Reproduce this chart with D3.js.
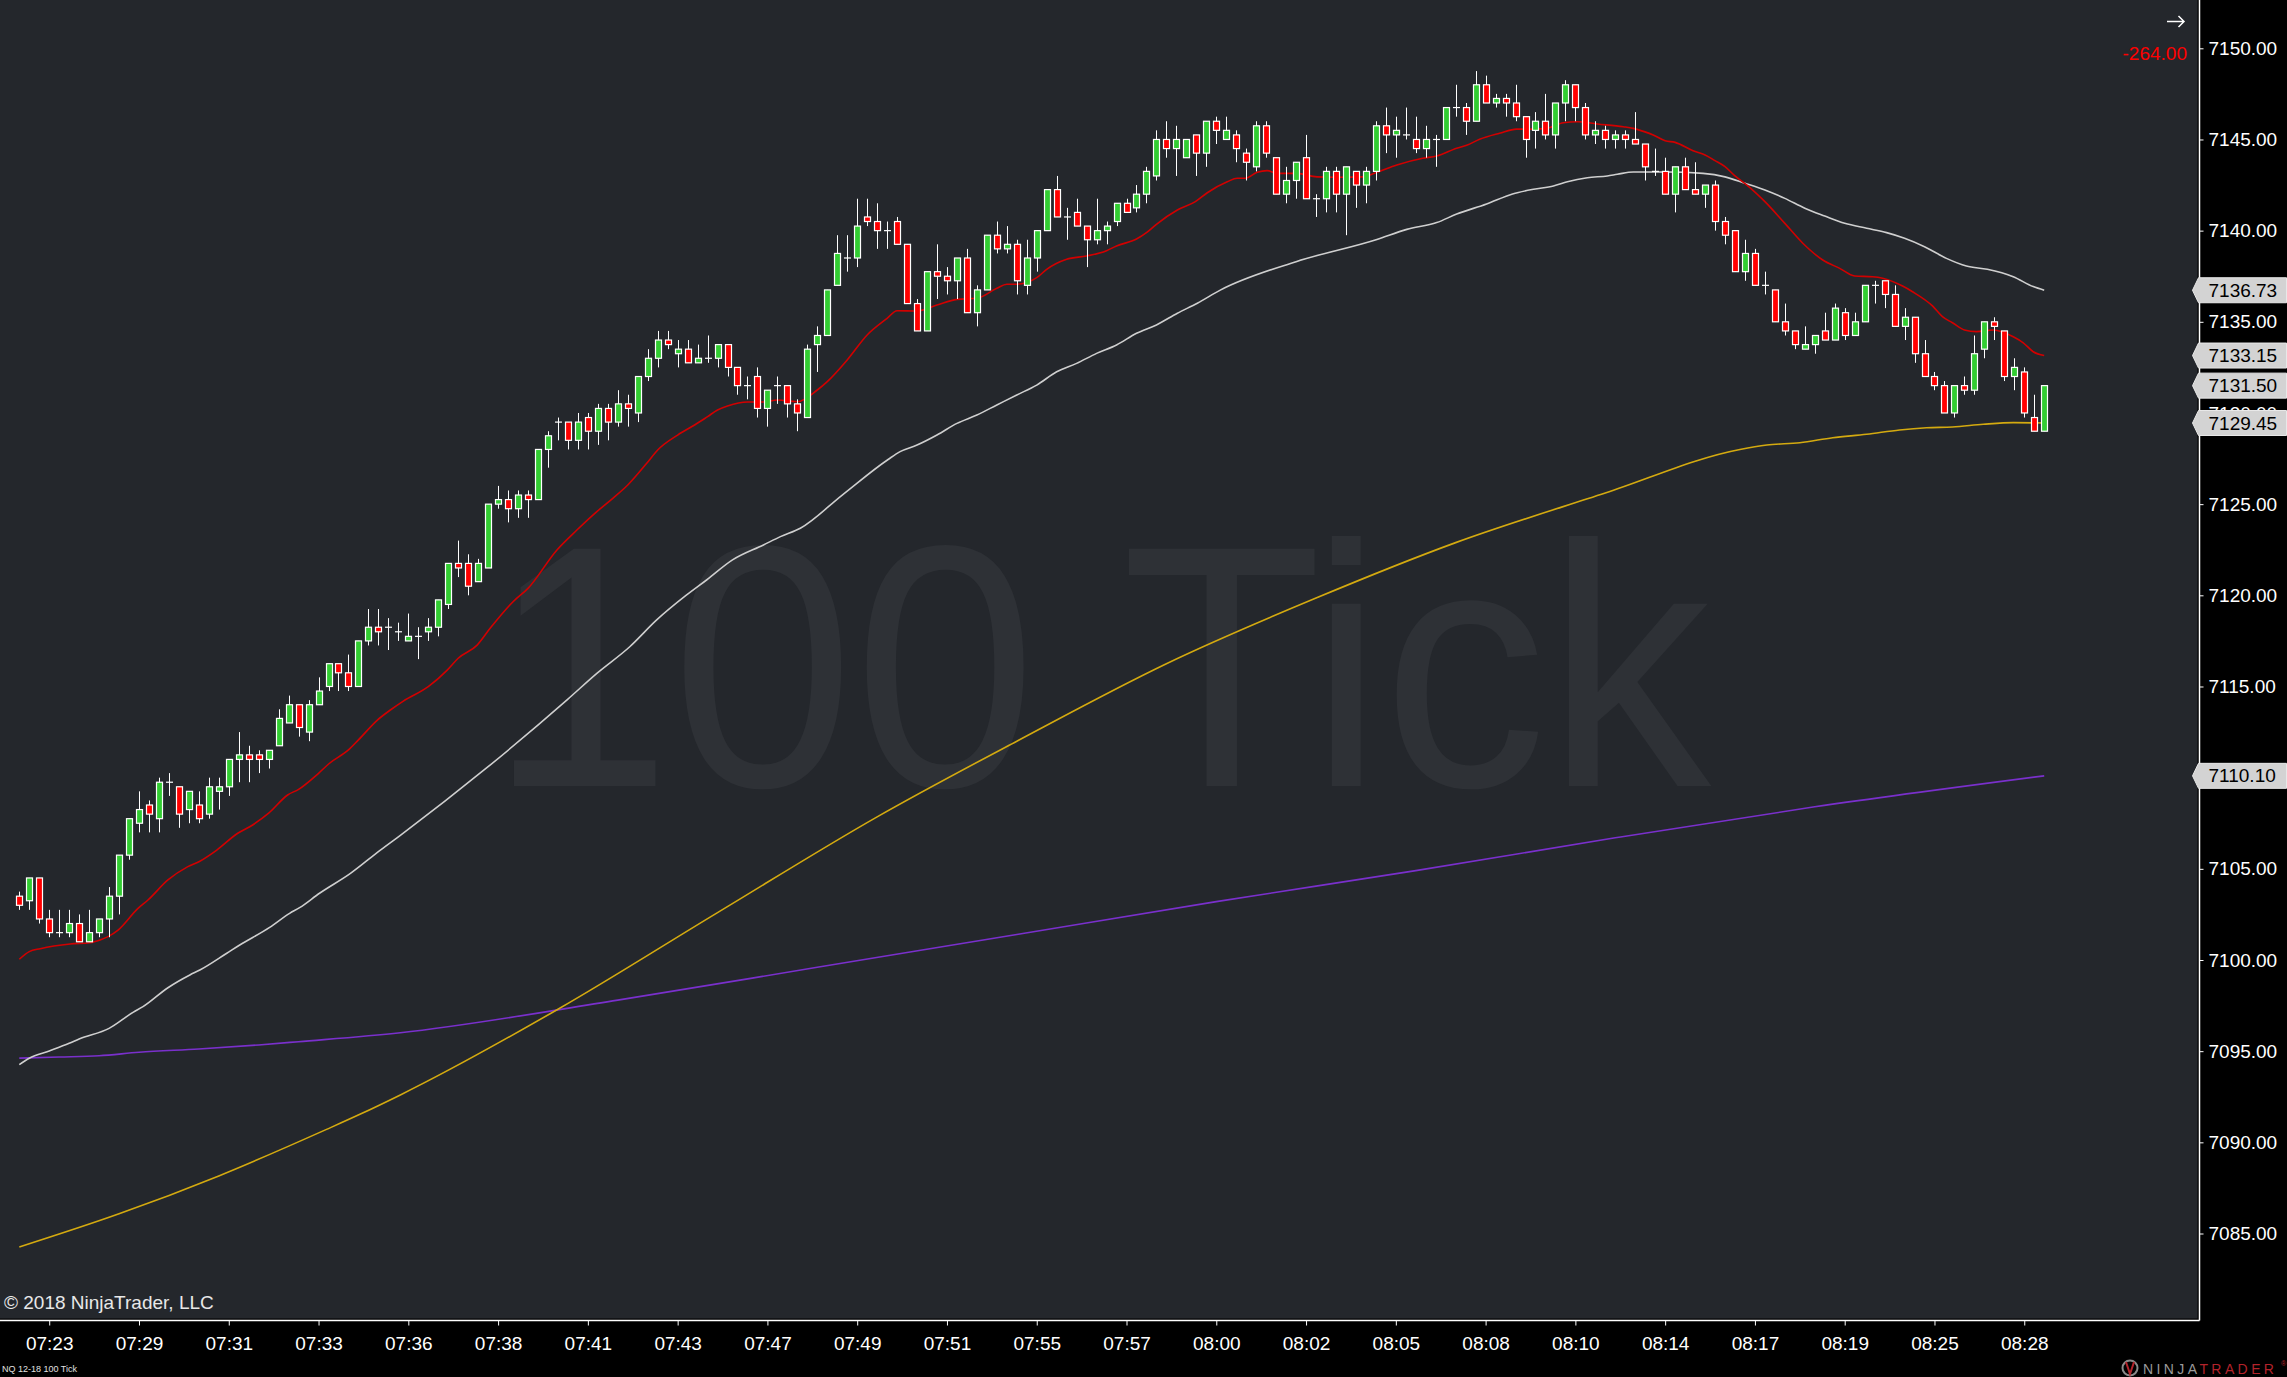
<!DOCTYPE html>
<html><head><meta charset="utf-8">
<script src="https://cdn.jsdelivr.net/npm/d3@7"></script>
<style>
html,body{margin:0;padding:0;background:#000;}
svg{display:block;}
text{font-family:"Liberation Sans",Arial,sans-serif;}
</style></head>
<body>
<svg id="c" width="2287" height="1377"></svg>
<script>
// ---------- DATA ----------
const opens = [7103.50,7103.25,7104.50,7102.25,7101.50,7101.50,7102.00,7101.00,7101.50,7102.25,
7103.50,7105.75,7107.50,7108.50,7107.75,7109.75,7109.50,7108.25,7108.50,7108.00,
7109.25,7109.50,7111.00,7111.25,7111.25,7111.00,7111.75,7113.00,7114.00,7112.50,
7114.00,7115.00,7116.25,7115.75,7115.00,7117.50,7118.25,7118.25,7118.00,7117.50,
7117.75,7118.00,7118.25,7119.50,7121.75,7121.75,7120.75,7121.50,7125.00,7125.25,
7124.75,7125.50,7125.25,7128.00,7129.50,7129.50,7128.50,7129.75,7129.00,7130.25,
7129.50,7130.50,7130.00,7132.00,7133.00,7134.00,7133.25,7133.50,7132.75,7133.00,
7133.00,7133.75,7132.50,7131.50,7132.00,7130.25,7131.50,7131.50,7130.50,7129.75,
7133.75,7134.25,7137.00,7138.50,7138.50,7140.75,7140.50,7140.00,7140.50,7139.25,
7136.00,7134.50,7137.75,7137.50,7137.25,7138.50,7135.50,7136.75,7139.75,7139.00,
7139.25,7137.00,7138.50,7140.00,7142.25,7140.75,7141.00,7140.25,7139.50,7140.00,
7140.50,7141.50,7141.25,7142.00,7143.00,7145.00,7144.50,7144.00,7145.25,7144.25,
7146.00,7145.00,7145.25,7144.25,7143.50,7145.75,7144.00,7142.00,7142.75,7144.00,
7141.75,7141.75,7143.25,7142.00,7143.25,7142.50,7143.25,7145.75,7145.25,7145.25,
7145.00,7144.50,7145.00,7145.00,7146.75,7146.75,7146.00,7148.00,7147.00,7147.25,
7147.00,7146.25,7145.50,7146.00,7145.25,7147.00,7148.00,7146.75,7145.25,7145.50,
7145.00,7145.25,7145.00,7144.75,7143.25,7143.25,7142.00,7143.50,7142.25,7142.00,
7142.50,7140.50,7140.00,7137.75,7138.75,7137.00,7136.75,7135.00,7134.50,7133.50,
7133.75,7134.50,7134.00,7135.50,7134.25,7135.00,7137.00,7137.25,7136.50,7134.75,
7135.25,7133.25,7132.00,7131.50,7130.00,7131.50,7131.25,7133.50,7135.00,7134.50,
7132.00,7132.25,7129.75,7129.00];
const highs = [7103.75,7104.50,7104.50,7102.75,7102.75,7102.75,7102.50,7102.75,7102.25,7104.00,
7105.75,7107.75,7109.25,7108.75,7110.00,7110.25,7109.50,7109.25,7109.25,7110.00,
7110.00,7111.00,7112.50,7111.75,7111.50,7111.50,7113.75,7114.50,7114.00,7114.25,
7115.50,7116.25,7116.25,7116.75,7117.50,7119.25,7119.25,7118.75,7118.50,7119.00,
7118.25,7118.75,7119.75,7121.75,7123.00,7122.25,7122.00,7125.00,7126.00,7125.75,
7125.75,7125.75,7128.00,7129.00,7129.75,7129.50,7130.00,7130.00,7130.50,7130.50,
7131.25,7131.00,7132.00,7133.50,7134.50,7134.50,7134.00,7134.00,7133.75,7134.25,
7133.75,7133.75,7132.50,7132.00,7132.50,7131.25,7132.00,7131.50,7130.75,7133.75,
7134.75,7136.75,7139.75,7139.75,7141.75,7141.75,7141.50,7140.50,7140.75,7139.25,
7136.25,7137.75,7139.25,7138.00,7138.50,7139.00,7137.00,7139.75,7140.50,7140.25,
7139.50,7139.50,7140.00,7142.25,7143.00,7141.25,7141.75,7140.25,7141.75,7140.50,
7141.50,7141.75,7142.50,7143.50,7145.50,7146.00,7145.75,7145.00,7145.25,7146.00,
7146.25,7146.25,7145.50,7144.50,7146.00,7146.00,7144.00,7143.50,7143.75,7145.25,
7142.00,7143.50,7143.50,7143.50,7143.25,7143.50,7146.00,7146.75,7146.25,7146.75,
7146.25,7145.75,7145.25,7146.75,7148.00,7147.00,7148.75,7148.50,7147.50,7147.50,
7148.00,7146.25,7146.50,7147.50,7147.00,7148.25,7148.00,7147.00,7146.00,7145.75,
7145.50,7145.50,7146.50,7144.75,7144.50,7144.00,7143.50,7144.00,7143.75,7142.50,
7142.75,7140.75,7140.00,7139.50,7139.00,7137.75,7136.75,7136.00,7134.50,7134.75,
7134.25,7135.50,7136.00,7135.75,7135.50,7137.00,7137.25,7137.25,7137.00,7135.75,
7135.25,7134.00,7132.25,7131.75,7131.50,7132.00,7134.25,7135.00,7135.25,7134.50,
7133.00,7132.50,7131.00,7131.50];
const lows = [7102.75,7102.75,7102.00,7101.25,7101.25,7101.25,7101.00,7101.00,7101.25,7101.25,
7102.50,7105.50,7107.00,7107.00,7107.00,7109.00,7107.25,7107.50,7107.50,7107.75,
7108.25,7109.00,7109.75,7109.75,7110.25,7110.50,7111.75,7113.00,7112.25,7112.00,
7114.00,7114.75,7114.75,7114.75,7115.00,7117.25,7117.25,7117.00,7117.50,7117.50,
7116.50,7117.50,7117.75,7119.25,7121.00,7120.00,7120.75,7121.50,7124.75,7124.00,
7124.25,7124.25,7125.25,7127.00,7128.50,7128.00,7128.00,7128.00,7128.25,7128.50,
7129.25,7129.25,7129.50,7131.75,7132.50,7133.50,7132.50,7132.75,7132.75,7132.75,
7132.50,7132.00,7131.00,7130.75,7129.75,7129.25,7130.50,7129.75,7129.00,7129.75,
7132.25,7134.25,7137.00,7137.75,7138.00,7140.25,7139.00,7139.00,7139.25,7136.00,
7134.50,7134.50,7136.25,7136.50,7136.25,7135.50,7134.75,7136.75,7138.75,7138.75,
7136.50,7136.50,7137.75,7140.00,7140.75,7139.50,7140.25,7138.00,7139.25,7139.25,
7140.25,7141.00,7141.00,7141.50,7142.75,7144.00,7143.00,7144.00,7143.00,7143.50,
7144.75,7145.00,7143.75,7142.75,7143.25,7144.00,7142.00,7141.50,7141.75,7141.75,
7140.75,7141.00,7141.00,7139.75,7141.25,7141.50,7142.75,7144.25,7144.00,7145.00,
7144.25,7144.00,7143.50,7145.00,7146.25,7145.25,7146.00,7147.00,7146.75,7146.25,
7146.00,7144.00,7144.50,7145.00,7144.50,7146.00,7146.00,7145.00,7144.75,7144.50,
7144.50,7144.50,7144.75,7142.75,7143.00,7142.00,7141.00,7142.25,7142.00,7141.25,
7140.00,7139.25,7137.75,7137.25,7137.00,7136.50,7135.00,7134.25,7133.50,7133.50,
7133.25,7134.00,7134.00,7134.00,7134.25,7135.00,7136.00,7135.75,7134.75,7134.00,
7132.75,7132.00,7131.25,7130.00,7129.75,7131.00,7131.00,7133.00,7134.00,7131.75,
7131.25,7129.75,7129.00,7129.00];
const closes = [7103.00,7104.50,7102.25,7101.50,7101.50,7102.00,7101.00,7101.50,7102.25,7103.50,
7105.75,7107.75,7108.25,7108.00,7109.75,7109.75,7108.00,7109.25,7107.75,7109.50,
7109.50,7111.00,7111.25,7111.00,7111.00,7111.50,7113.25,7114.00,7112.75,7114.00,
7114.75,7116.25,7115.75,7115.00,7117.50,7118.25,7118.00,7118.25,7118.00,7117.75,
7117.75,7118.25,7119.75,7121.75,7121.50,7120.50,7121.75,7125.00,7125.25,7124.75,
7125.50,7125.25,7128.00,7128.75,7129.50,7128.50,7129.50,7129.00,7130.25,7129.50,
7130.50,7130.25,7132.00,7133.00,7134.00,7133.75,7133.50,7132.75,7133.00,7133.00,
7133.75,7132.50,7131.50,7131.50,7130.25,7131.25,7131.50,7130.50,7130.00,7133.50,
7134.25,7136.75,7138.75,7138.50,7140.25,7140.50,7140.00,7140.00,7139.25,7136.00,
7134.50,7137.75,7137.50,7137.25,7138.50,7135.50,7136.75,7139.75,7139.00,7139.25,
7137.25,7138.50,7140.00,7142.25,7140.75,7140.75,7140.25,7139.50,7140.00,7140.25,
7141.50,7141.00,7142.00,7143.25,7145.00,7144.50,7145.00,7145.00,7144.25,7146.00,
7145.50,7145.50,7144.50,7143.75,7145.75,7144.25,7142.00,7142.75,7143.75,7141.75,
7141.75,7143.25,7142.00,7143.50,7142.50,7143.25,7145.75,7145.25,7145.50,7145.25,
7144.50,7145.00,7145.00,7146.75,7146.75,7146.00,7148.00,7147.00,7147.25,7147.00,
7146.25,7145.00,7146.00,7145.25,7147.00,7148.00,7146.75,7145.25,7145.50,7145.00,
7145.25,7145.00,7144.75,7143.50,7143.25,7142.00,7143.50,7142.25,7142.00,7142.50,
7140.50,7139.75,7137.75,7138.75,7137.00,7137.00,7135.00,7134.50,7133.75,7133.75,
7134.25,7134.00,7135.75,7134.25,7135.00,7137.00,7137.00,7136.50,7134.75,7135.25,
7133.25,7132.00,7131.50,7130.00,7131.50,7131.25,7133.25,7135.00,7134.75,7132.00,
7132.50,7130.00,7129.00,7131.50];

// moving averages: bar position (index) and value
const redMaIdx = [0,1,2.1,5.1,7.1,8.1,8.9,9.9,11.9,12.9,14.9,16.9,18.1,19.8,21.9,23.1,25,26.9,28,30,31.1,33,34,35.9,37.2,38.5,41,42.9,44,45.9,47.2,49.5,51,53.9,55.9,57.9,59.5,61,62.9,64,66,67.7,69,70,71,73,74.6,76,78,80,81,83,85,87,88,90,92,94,96,98,99,100,102,103,105,107,109,110,112,113,114,116.1,117.9,119.1,121.1,122.1,122.9,124.1,125.1,126.1,128.1,130.1,132.1,134.7,136.1,138.1,140.7,142.1,144.1,145.1,146.4,148.4,150.1,151.8,153.1,154.8,156.2,158.2,160.8,161.8,162.9,163.8,165,166,167.8,169,170,171,172,173.2,175,177,178.8,180.8,182.5,184,185.8,186.8,188.8,189.8,191.8,192.8,193.8,195,196.2,197.9,199.9,200.9,201.9,203];
const redMaVal = [7100.04,7100.46,7100.62,7100.88,7100.95,7101.10,7101.28,7101.64,7102.83,7103.29,7104.39,7105.12,7105.42,7106.03,7106.95,7107.31,7108.05,7109.05,7109.36,7110.24,7110.79,7111.52,7112.07,7113.16,7113.71,7114.20,7114.99,7115.90,7116.55,7117.27,7118.19,7119.65,7120.38,7122.49,7123.58,7124.59,7125.32,7126.05,7127.24,7127.97,7128.79,7129.34,7129.80,7130.16,7130.38,7130.60,7130.60,7130.71,7130.62,7131.26,7131.72,7132.91,7134.28,7135.19,7135.61,7135.59,7135.92,7136.23,7136.29,7136.84,7137.06,7137.06,7137.42,7137.88,7138.43,7138.61,7138.90,7139.16,7139.54,7139.89,7140.35,7141.13,7141.59,7142.08,7142.68,7142.87,7142.87,7143.20,7143.29,7143.14,7143.14,7142.95,7142.93,7142.95,7143.20,7143.60,7143.97,7144.09,7144.52,7144.68,7145.01,7145.34,7145.57,7145.57,7145.61,7145.92,7145.97,7145.85,7145.70,7145.61,7145.43,7145.25,7144.93,7144.84,7144.38,7144.15,7143.84,7143.51,7143.00,7142.50,7141.59,7140.40,7139.31,7138.39,7137.93,7137.51,7137.47,7137.39,7136.96,7136.65,7135.87,7135.28,7134.95,7134.55,7134.46,7134.55,7134.18,7133.85,7133.36,7133.15];
const grayMaIdx = [0,1,3,5,6,9,11.4,12.4,14.9,17.1,18.1,20.8,22.1,25.1,27.1,28.1,30.1,33.2,36.2,38.2,47,55,57.9,61.2,63.9,66.9,68.9,71.5,74.6,76.3,78.3,82.5,87.1,88.3,90,92,94,96,98,100,102,104,106,108,110,112,114,116.1,118.1,120.4,128,136.1,139.1,142.1,144.1,147.1,149.7,151.8,153.8,155.2,157.2,159.2,160.2,161.8,165.2,168.8,171,173,175,177,179,181,183,185.2,187.2,189,191,193.2,195.2,197.3,199.9,201.9,203];
const grayMaVal = [7094.26,7094.61,7095.01,7095.43,7095.67,7096.25,7097.13,7097.44,7098.48,7099.18,7099.45,7100.37,7100.82,7101.79,7102.56,7102.87,7103.66,7104.75,7106.03,7106.84,7110.60,7114.31,7115.72,7117.18,7118.65,7120.02,7120.84,7121.94,7122.76,7123.22,7123.68,7125.50,7127.45,7127.88,7128.24,7128.79,7129.43,7129.89,7130.44,7130.99,7131.53,7132.26,7132.72,7133.27,7133.73,7134.37,7134.83,7135.47,7136.02,7136.74,7138.30,7139.52,7140.07,7140.44,7140.91,7141.46,7142.01,7142.27,7142.45,7142.68,7142.90,7143.00,7143.09,7143.22,7143.22,7143.14,7142.95,7142.60,7142.23,7141.77,7141.23,7140.80,7140.40,7140.13,7139.89,7139.58,7139.12,7138.48,7138.06,7137.88,7137.47,7136.93,7136.73];
const yellowMaIdx = [0,10,20,30.8,34.2,38.2,54,70,86,100,115,130,144,159,172.5,175.2,178.5,181.8,185.2,188.5,191.2,193.8,196.9,199.9,203];
const yellowMaVal = [7084.26,7086.08,7088.16,7090.71,7091.55,7092.60,7097.30,7102.60,7107.85,7112.00,7116.25,7119.85,7122.89,7125.61,7128.00,7128.24,7128.37,7128.64,7128.83,7129.07,7129.19,7129.23,7129.38,7129.47,7129.45];
const purpleMaIdx = [0,4,8,12,18,24,28,38.2,60,80,100,120,140,160,180,203];
const purpleMaVal = [7094.62,7094.68,7094.75,7094.94,7095.12,7095.34,7095.52,7096.01,7097.80,7099.60,7101.40,7103.20,7104.90,7106.70,7108.40,7110.10];

const timeLabels = ["07:23","07:29","07:31","07:33","07:36","07:38","07:41","07:43","07:47","07:49","07:51","07:55","07:57","08:00","08:02","08:05","08:08","08:10","08:14","08:17","08:19","08:25","08:28"];
const timeTickBars = [3,12,21,30,39,48,57,66,75,84,93,102,111,120,129,138,147,156,165,174,183,192,201];
const priceTicks = [7085,7090,7095,7100,7105,7110,7115,7120,7125,7130,7135,7140,7145,7150];

// ---------- LAYOUT ----------
const W = 2287, H = 1377;
const plotRight = 2199.5, plotBottom = 1320.5;
const svg = d3.select("#c");

const x = d3.scaleLinear().domain([0, 203]).range([19.3, 2044.2]);
const y = d3.scaleLinear().domain([7100, 7150]).range([960, 48.3]);

svg.append("rect").attr("width", W).attr("height", H).attr("fill", "#000");
svg.append("rect").attr("x", 0).attr("y", 0).attr("width", 2197.5).attr("height", 1318.5).attr("fill", "#24272c");

// watermark
svg.append("text").attr("transform", "translate(489,786) scale(0.951,1)")
  .attr("font-size", 345).attr("fill", "#2e3136")
  .text("100 Tick");

// moving averages
function drawMa(idx, val, color, w) {
  const pts = idx.map((d, k) => [d, val[k]]);
  svg.append("path").datum(pts)
    .attr("fill", "none").attr("stroke", color).attr("stroke-width", w)
    .attr("stroke-linejoin", "round")
    .attr("d", d3.line().curve(d3.curveMonotoneX).x(d => x(d[0])).y(d => y(d[1])));
}
drawMa(purpleMaIdx, purpleMaVal, "#7a30cc", 1.6);
drawMa(yellowMaIdx, yellowMaVal, "#d4aa10", 1.6);
drawMa(grayMaIdx, grayMaVal, "#cfcfcf", 1.6);
drawMa(redMaIdx, redMaVal, "#d20000", 1.6);

// candles
const bars = opens.map((o, i) => ({i, o, h: highs[i], l: lows[i], c: closes[i]}));
const cg = svg.append("g");
cg.selectAll("line.wick").data(bars).join("line")
  .attr("x1", d => Math.round(x(d.i)) + 0.5).attr("x2", d => Math.round(x(d.i)) + 0.5)
  .attr("y1", d => y(d.h)).attr("y2", d => y(d.l))
  .attr("stroke", "#fff").attr("stroke-width", 1);
cg.selectAll("rect.body").data(bars.filter(d => d.o !== d.c)).join("rect")
  .attr("x", d => Math.round(x(d.i)) - 2.5)
  .attr("y", d => y(Math.max(d.o, d.c)))
  .attr("width", 6)
  .attr("height", d => Math.abs(y(d.o) - y(d.c)))
  .attr("fill", d => d.c > d.o ? "#32cd32" : "#ff0000")
  .attr("stroke", "#fff").attr("stroke-width", 1.2);
cg.selectAll("line.doji").data(bars.filter(d => d.o === d.c)).join("line")
  .attr("x1", d => Math.round(x(d.i)) - 3).attr("x2", d => Math.round(x(d.i)) + 4)
  .attr("y1", d => y(d.c)).attr("y2", d => y(d.c))
  .attr("stroke", "#fff").attr("stroke-width", 1.2);

// borders
svg.append("line").attr("x1", plotRight).attr("x2", plotRight).attr("y1", 0).attr("y2", plotBottom)
  .attr("stroke", "#fff").attr("stroke-width", 1.5);
svg.append("line").attr("x1", 0).attr("x2", plotRight).attr("y1", plotBottom).attr("y2", plotBottom)
  .attr("stroke", "#fff").attr("stroke-width", 1.5);

// y axis
const yAxis = d3.axisRight(y).tickValues(priceTicks).tickFormat(d3.format(".2f")).tickSize(4).tickPadding(5);
const ya = svg.append("g").attr("transform", `translate(${plotRight},0)`).call(yAxis);
ya.select(".domain").remove();
ya.selectAll("line").attr("stroke", "#fff");
ya.selectAll("text").attr("fill", "#fff").attr("font-size", 19)
  .attr("font-family", "Liberation Sans, Arial, sans-serif");

// x axis
const xAxis = d3.axisBottom(x).tickValues(timeTickBars)
  .tickFormat((d, k) => timeLabels[k]).tickSize(5).tickPadding(11.5);
const xa = svg.append("g").attr("transform", `translate(0,${plotBottom})`).call(xAxis);
xa.select(".domain").remove();
xa.selectAll("line").attr("stroke", "#fff");
xa.selectAll("text").attr("fill", "#fff").attr("font-size", 19)
  .attr("font-family", "Liberation Sans, Arial, sans-serif");

// price markers (last values)
const markers = [
  grayMaVal[grayMaVal.length - 1],
  redMaVal[redMaVal.length - 1],
  closes[closes.length - 1],
  yellowMaVal[yellowMaVal.length - 1],
  purpleMaVal[purpleMaVal.length - 1]
];
const mg = svg.append("g");
markers.forEach(v => {
  const yy = y(v);
  mg.append("path")
    .attr("d", `M2192.5,${yy} L2198.5,${yy - 12.5} L2286.5,${yy - 12.5} L2286.5,${yy + 12.5} L2198.5,${yy + 12.5} Z`)
    .attr("fill", "#d3d3d3").attr("stroke", "#e8e8e8").attr("stroke-width", 1);
  mg.append("text").attr("x", 2208.5).attr("y", yy).attr("dy", "0.35em")
    .attr("font-size", 19).attr("fill", "#000").text(d3.format(".2f")(v));
});

// top right: arrow and PnL
svg.append("path").attr("d", "M2167,21.5 H2184 M2178.5,16 L2184,21.5 L2178.5,27")
  .attr("fill", "none").attr("stroke", "#fff").attr("stroke-width", 1.5);
svg.append("text").attr("x", 2187).attr("y", 60).attr("text-anchor", "end")
  .attr("font-size", 19).attr("fill", "#ff0000").text("-264.00");

// bottom-left texts
svg.append("text").attr("x", 4).attr("y", 1309).attr("font-size", 19).attr("fill", "#e8e8e8")
  .text("\u00A9 2018 NinjaTrader, LLC");
svg.append("text").attr("x", 2).attr("y", 1372).attr("font-size", 9).attr("fill", "#e0e0e0")
  .text("NQ 12-18 100 Tick");

// logo
const lg = svg.append("g");
lg.append("circle").attr("cx", 2130).attr("cy", 1368).attr("r", 7.5)
  .attr("fill", "none").attr("stroke", "#8a8a8a").attr("stroke-width", 2);
lg.append("path").attr("d", "M2126,1362 L2130,1374 L2134,1362").attr("fill", "none")
  .attr("stroke", "#b3232b").attr("stroke-width", 2);
const lt = lg.append("text").attr("x", 2143).attr("y", 1373.5).attr("font-size", 14)
  .attr("letter-spacing", 3.4);
lt.append("tspan").attr("fill", "#9a9a9a").text("NINJA");
lt.append("tspan").attr("fill", "#b3232b").text("TRADER");
lg.append("text").attr("x", 2281).attr("y", 1366).attr("font-size", 7).attr("fill", "#b3232b").text("\u00AE");
</script>
</body></html>
